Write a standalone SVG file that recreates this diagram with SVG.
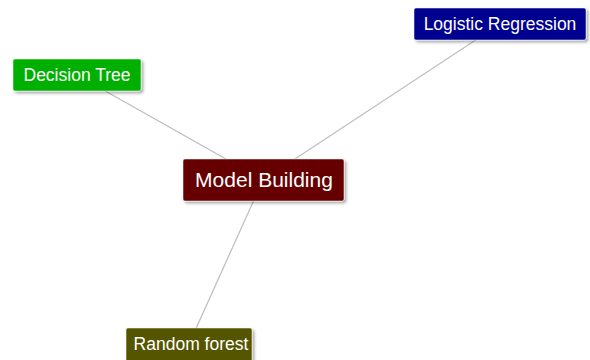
<svg xmlns="http://www.w3.org/2000/svg" width="590" height="360" viewBox="0 0 590 360">
<defs>
<filter id="sh" x="-10%" y="-20%" width="125%" height="150%">
<feDropShadow dx="2" dy="2" stdDeviation="1.5" flood-color="#000" flood-opacity="0.35"/>
</filter>
</defs>
<style>
.box{filter:url(#sh);stroke:#fff;stroke-width:0.5}
.t{font-family:"Liberation Sans",Arial,sans-serif;fill:#fff;text-anchor:middle;dominant-baseline:central}
.e{stroke:#c0c0c0;stroke-width:1.3;fill:none}
</style>
<rect width="590" height="360" fill="#fff"/>
<g id="connectors">
<line class="e" x1="263" y1="180" x2="77" y2="75"/>
<line class="e" x1="263" y1="180" x2="500" y2="24"/>
<line class="e" x1="263" y1="180" x2="189" y2="344"/>
</g>
<g id="logistic">
<rect class="box" x="414" y="8" width="172" height="32" rx="2" fill="#000090"/>
<text class="t" x="500" y="23.5" font-size="17.5">Logistic Regression</text>
</g>
<g id="decision">
<rect class="box" x="13" y="59" width="128" height="32" rx="2" fill="#00b000"/>
<text class="t" x="77" y="74.5" font-size="17.5">Decision Tree</text>
</g>
<g id="model">
<rect class="box" x="183" y="159" width="161" height="42" rx="2" fill="#660000"/>
<text class="t" x="264" y="179.5" font-size="21">Model Building</text>
</g>
<g id="random">
<rect class="box" x="126" y="328" width="126" height="34" rx="2" fill="#555500"/>
<text class="t" x="191" y="344" font-size="17.5">Random forest</text>
</g>
</svg>
